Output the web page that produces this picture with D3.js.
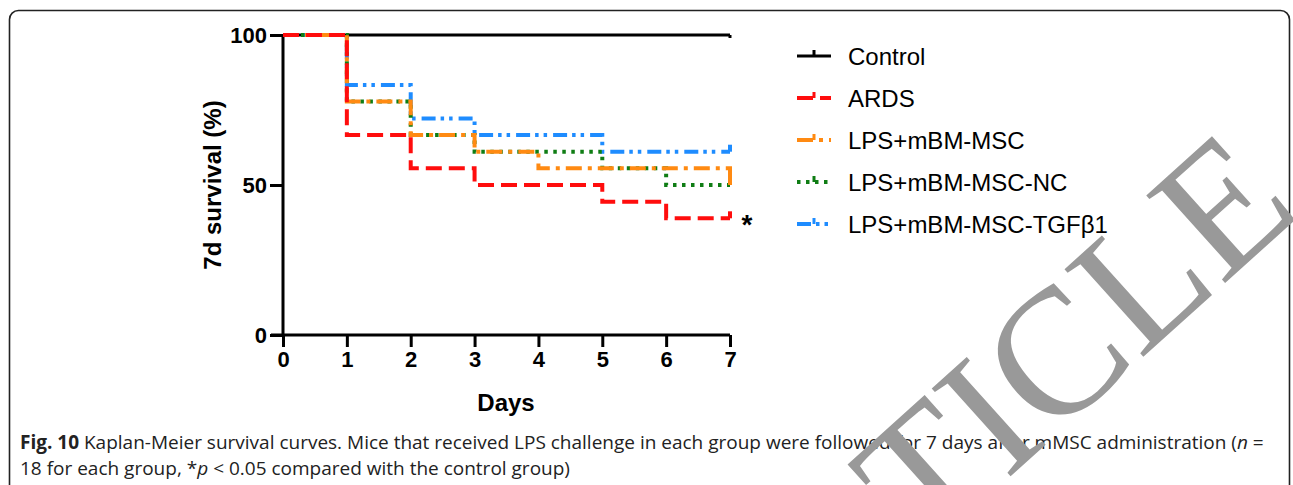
<!DOCTYPE html>
<html>
<head>
<meta charset="utf-8">
<script src="https://cdnjs.cloudflare.com/ajax/libs/d3/7.8.5/d3.min.js"></script>
<style>
  html, body { margin: 0; padding: 0; background: #fff; }
  svg { display: block; }
</style>
</head>
<body>
<div id="chart"></div>
<script>
// survival data (n = 18 per group)
const days = [0, 1, 2, 3, 4, 5, 6, 7];
const groups = ["Control", "ARDS", "LPS+mBM-MSC", "LPS+mBM-MSC-NC", "LPS+mBM-MSC-TGFβ1"];
const control = [100, 100, 100, 100, 100, 100, 100, 100];
const ards = [100, 66.7, 55.6, 50, 50, 44.4, 38.9, 38.9];
const msc = [100, 77.8, 66.7, 61.1, 55.6, 55.6, 55.6, 50];
const mscNC = [100, 77.8, 66.7, 61.1, 61.1, 55.6, 50, 50];
const mscTGF = [100, 83.3, 72.2, 66.7, 66.7, 61.1, 61.1, 61.1];
const yTicks = [0, 50, 100];
const xTicks = [0, 1, 2, 3, 4, 5, 6, 7];

const width = 1293, height = 485;

const series = [
  {name: groups[0], values: control, color: "#000000", dash: null, w: 3},
  {name: groups[1], values: ards, color: "#ff0d0d", dash: "16,7", w: 4},
  {name: groups[2], values: msc, color: "#ff8a12", dash: "16,6,4,6", w: 4},
  {name: groups[3], values: mscNC, color: "#0f7d14", dash: "3.5,5.5", w: 4},
  {name: groups[4], values: mscTGF, color: "#1e8cff", dash: "14,5,3.5,5,3.5,6", w: 4}
];
// drawing order: control under, red on top
const drawOrder = [0, 4, 3, 2, 1];

const svg = d3.select("#chart").append("svg")
  .attr("width", width)
  .attr("height", height);

// rounded frame of the figure panel
svg.append("rect")
  .attr("x", 9.5).attr("y", 10.5)
  .attr("width", 1280).attr("height", 520)
  .attr("rx", 9).attr("ry", 9)
  .attr("fill", "none")
  .attr("stroke", "#222")
  .attr("stroke-width", 1.6);

const x = d3.scaleLinear().domain([0, 7]).range([283, 730]);
const y = d3.scaleLinear().domain([0, 100]).range([335, 35]);

const axisFont = "'Liberation Sans', Arial, sans-serif";

// y axis
const gy = svg.append("g")
  .attr("transform", "translate(283,0)")
  .call(d3.axisLeft(y).tickValues(yTicks).tickSize(13).tickPadding(3).tickFormat(d3.format("d")));
// x axis
const gx = svg.append("g")
  .attr("transform", "translate(0,335)")
  .call(d3.axisBottom(x).tickValues(xTicks).tickSize(12).tickPadding(4).tickFormat(d3.format("d")));

[gx, gy].forEach(g => {
  g.select(".domain").attr("stroke", "#000").attr("stroke-width", 3);
  g.selectAll(".tick line").attr("stroke", "#000").attr("stroke-width", 3);
  g.selectAll(".tick text")
    .attr("fill", "#000")
    .style("font-family", axisFont)
    .style("font-weight", "bold")
    .style("font-size", "22px");
});
gx.select(".domain").attr("d", "M271,0H730");
gy.select(".domain").attr("d", "M0,335V35");

svg.append("text")
  .attr("x", 506).attr("y", 411)
  .attr("text-anchor", "middle")
  .style("font-family", axisFont)
  .style("font-weight", "bold")
  .style("font-size", "24px")
  .text("Days");

svg.append("text")
  .attr("transform", "translate(221,185) rotate(-90)")
  .attr("text-anchor", "middle")
  .style("font-family", axisFont)
  .style("font-weight", "bold")
  .style("font-size", "24px")
  .text("7d survival (%)");

// Kaplan-Meier step curves
const line = d3.line()
  .x((d, i) => x(days[i]))
  .y(d => y(d))
  .curve(d3.curveStepAfter);

const curves = svg.append("g");
drawOrder.forEach(k => {
  let s = series[k];
  curves.append("path")
    .attr("d", line(s.values))
    .attr("fill", "none")
    .attr("stroke", s.color)
    .attr("stroke-width", s.w)
    .attr("stroke-dasharray", s.dash);
  // censor tick at end of follow-up
  let last = s.values[s.values.length - 1];
  curves.append("line")
    .attr("x1", x(7)).attr("x2", x(7))
    .attr("y1", y(last)).attr("y2", k === 0 ? y(last) + 3 : y(last) - 7)
    .attr("stroke", s.color)
    .attr("stroke-width", s.w);
});

// significance mark next to ARDS
svg.append("text")
  .attr("x", 747).attr("y", 234)
  .attr("text-anchor", "middle")
  .style("font-family", axisFont)
  .style("font-weight", "bold")
  .style("font-size", "28px")
  .text("*");

// legend
const legend = svg.append("g");
series.forEach((s, i) => {
  let ly = 56 + i * 42;
  legend.append("line")
    .attr("x1", 797).attr("x2", 831)
    .attr("y1", ly).attr("y2", ly)
    .attr("stroke", s.color)
    .attr("stroke-width", s.w)
    .attr("stroke-dasharray", s.dash);
  legend.append("line")
    .attr("x1", 814).attr("x2", 814)
    .attr("y1", ly).attr("y2", ly - 6)
    .attr("stroke", s.color)
    .attr("stroke-width", 3);
  legend.append("text")
    .attr("x", 848).attr("y", ly + 8.5)
    .style("font-family", axisFont)
    .style("font-size", "24px")
    .attr("fill", "#000")
    .text(s.name);
});

// caption
const capFont = "'Open Sans', 'Noto Sans', sans-serif";
const capSize = "19px";
const cap1 = svg.append("text")
  .attr("x", 20).attr("y", 449)
  .style("font-family", capFont)
  .style("font-size", capSize)
  .attr("fill", "#222");
cap1.append("tspan").style("font-weight", "bold").text("Fig. 10");
cap1.append("tspan").text(" Kaplan-Meier survival curves. Mice that received LPS challenge in each group were followed for 7 days after mMSC administration (");
cap1.append("tspan").style("font-style", "italic").text("n");
cap1.append("tspan").text(" =");

const cap2 = svg.append("text")
  .attr("x", 20).attr("y", 475)
  .style("font-family", capFont)
  .style("font-size", capSize)
  .attr("fill", "#222");
cap2.append("tspan").text("18 for each group, *");
cap2.append("tspan").style("font-style", "italic").text("p");
cap2.append("tspan").text(" < 0.05 compared with the control group)");

// retraction watermark
svg.append("text")
  .attr("transform", "translate(1303,213) rotate(-42)")
  .attr("text-anchor", "end")
  .style("font-family", "'Liberation Serif', 'Times New Roman', serif")
  .style("font-size", "180px")
  .attr("fill", "#999")
  .text("RETRACTED ARTICLE");
</script>
</body>
</html>
